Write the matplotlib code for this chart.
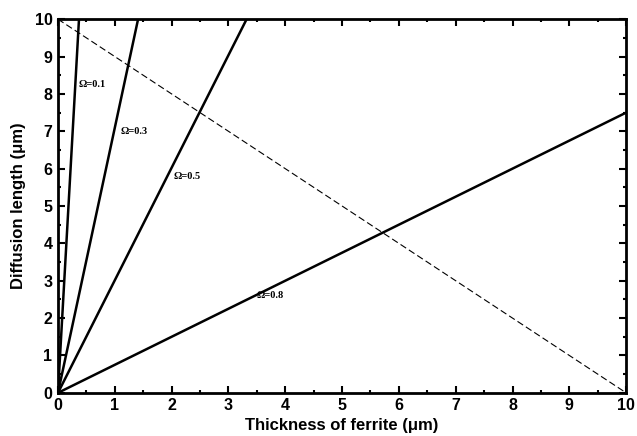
import matplotlib
matplotlib.use("Agg")
import matplotlib.pyplot as plt
from matplotlib.ticker import MultipleLocator

omega_labels = ["Ω=0.1", "Ω=0.3", "Ω=0.5", "Ω=0.8"]
line_x_end = [0.37, 1.41, 3.32, 10.0]
line_y_end = [10.0, 10.0, 10.0, 7.5]
label_x = [0.36, 1.10, 2.03, 3.50]
label_y = [8.25, 7.0, 5.8, 2.6]
dash_x = [0, 10]
dash_y = [10, 0]

fig = plt.figure(figsize=(6.37, 4.36), dpi=100)
ax = fig.add_axes([0.091, 0.099, 0.892, 0.857])

for xe, ye in zip(line_x_end, line_y_end):
    ax.plot([0, xe], [0, ye], color="black", lw=1.8, solid_capstyle="butt")
ax.plot(dash_x, dash_y, color="black", lw=0.8, ls=(0, (6, 3)))

for t, lx, ly in zip(omega_labels, label_x, label_y):
    ax.text(lx, ly, t, fontsize=7.5, fontweight="bold", family="Liberation Serif",
            ha="left", va="center")

ax.set_xlim(0, 10)
ax.set_ylim(0, 10)
ax.xaxis.set_major_locator(MultipleLocator(1))
ax.yaxis.set_major_locator(MultipleLocator(1))
ax.xaxis.set_minor_locator(MultipleLocator(0.5))
ax.yaxis.set_minor_locator(MultipleLocator(0.5))
ax.tick_params(which="both", direction="in", top=True, right=True, width=1.5)
ax.tick_params(which="major", length=5, labelsize=11.5, pad=4)
ax.tick_params(which="minor", length=2.5)
for lab in ax.get_xticklabels() + ax.get_yticklabels():
    lab.set_fontweight("bold")
    lab.set_family("Liberation Sans")
for s in ax.spines.values():
    s.set_linewidth(2)

ax.set_xlabel("Thickness of ferrite (μm)", fontsize=12, fontweight="bold", family="Liberation Sans", labelpad=3)
ax.set_ylabel("Diffusion length (μm)", fontsize=12, fontweight="bold", family="Liberation Sans", labelpad=6)

fig.savefig("out.png", dpi=100)
